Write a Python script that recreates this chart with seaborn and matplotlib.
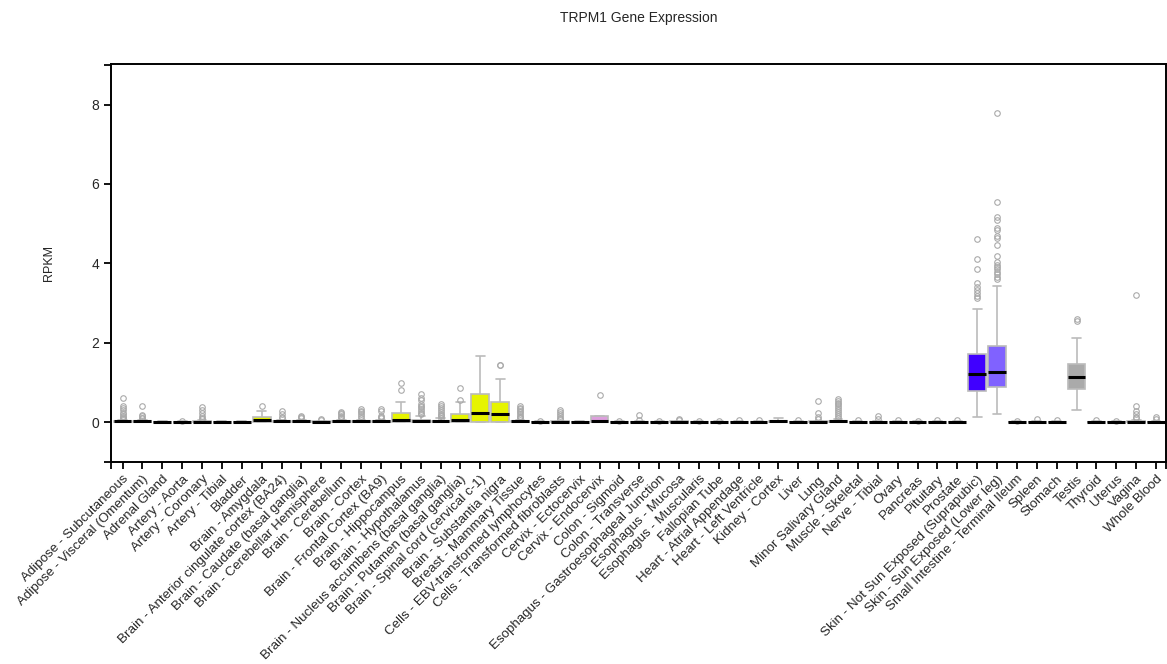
import pandas as pd
import seaborn as sns
import matplotlib.pyplot as plt

# Tissue names in display order
tissues = [
    "Adipose - Subcutaneous", "Adipose - Visceral (Omentum)", "Adrenal Gland",
    "Artery - Aorta", "Artery - Coronary", "Artery - Tibial", "Bladder",
    "Brain - Amygdala", "Brain - Anterior cingulate cortex (BA24)",
    "Brain - Caudate (basal ganglia)", "Brain - Cerebellar Hemisphere",
    "Brain - Cerebellum", "Brain - Cortex", "Brain - Frontal Cortex (BA9)",
    "Brain - Hippocampus", "Brain - Hypothalamus",
    "Brain - Nucleus accumbens (basal ganglia)", "Brain - Putamen (basal ganglia)",
    "Brain - Spinal cord (cervical c-1)", "Brain - Substantia nigra",
    "Breast - Mammary Tissue", "Cells - EBV-transformed lymphocytes",
    "Cells - Transformed fibroblasts", "Cervix - Ectocervix", "Cervix - Endocervix",
    "Colon - Sigmoid", "Colon - Transverse", "Esophagus - Gastroesophageal Junction",
    "Esophagus - Mucosa", "Esophagus - Muscularis", "Fallopian Tube",
    "Heart - Atrial Appendage", "Heart - Left Ventricle", "Kidney - Cortex", "Liver",
    "Lung", "Minor Salivary Gland", "Muscle - Skeletal", "Nerve - Tibial", "Ovary",
    "Pancreas", "Pituitary", "Prostate", "Skin - Not Sun Exposed (Suprapubic)",
    "Skin - Sun Exposed (Lower leg)", "Small Intestine - Terminal Ileum", "Spleen",
    "Stomach", "Testis", "Thyroid", "Uterus", "Vagina", "Whole Blood",
]

# Box summary values (RPKM)
q1 = [0.0, 0.0, 0.0, 0.0, 0.0, 0.0, 0.0, 0.0, 0.0, 0.0, 0.0, 0.0, 0.0, 0.0,
      0.0, 0.0, 0.0, 0.0, 0.01, 0.01, 0.0, 0.0, 0.0, 0.0, 0.01, 0.0, 0.0, 0.0,
      0.0, 0.0, 0.0, 0.0, 0.0, 0.0, 0.0, 0.0, 0.0, 0.0, 0.0, 0.0, 0.0, 0.0,
      0.0, 0.78, 0.88, 0.0, 0.0, 0.0, 0.84, 0.0, 0.0, 0.0, 0.0]
median = [0.02, 0.02, 0.0, 0.0, 0.01, 0.0, 0.0, 0.05, 0.02, 0.02, 0.01, 0.02,
          0.02, 0.02, 0.07, 0.03, 0.02, 0.07, 0.23, 0.20, 0.02, 0.0, 0.01, 0.0,
          0.03, 0.0, 0.0, 0.0, 0.01, 0.0, 0.0, 0.0, 0.0, 0.02, 0.0, 0.01, 0.02,
          0.0, 0.0, 0.0, 0.0, 0.0, 0.0, 1.22, 1.27, 0.0, 0.0, 0.0, 1.14, 0.0,
          0.0, 0.01, 0.0]
q3 = [0.03, 0.03, 0.01, 0.01, 0.02, 0.01, 0.01, 0.13, 0.03, 0.03, 0.02, 0.03,
      0.03, 0.03, 0.23, 0.07, 0.04, 0.21, 0.70, 0.51, 0.03, 0.01, 0.02, 0.01,
      0.16, 0.01, 0.01, 0.01, 0.02, 0.01, 0.01, 0.01, 0.01, 0.04, 0.01, 0.02,
      0.04, 0.01, 0.01, 0.01, 0.01, 0.01, 0.01, 1.71, 1.93, 0.01, 0.01, 0.01,
      1.48, 0.01, 0.01, 0.03, 0.01]
whisker_lo = [0.0] * 43 + [0.14, 0.20] + [0.0] * 3 + [0.30] + [0.0] * 4
whisker_hi = [0.06, 0.06, 0.02, 0.02, 0.05, 0.02, 0.02, 0.28, 0.06, 0.06, 0.04,
              0.06, 0.06, 0.06, 0.50, 0.15, 0.08, 0.50, 1.67, 1.08, 0.06, 0.02,
              0.04, 0.02, 0.16, 0.02, 0.02, 0.02, 0.04, 0.02, 0.02, 0.02, 0.02,
              0.08, 0.02, 0.04, 0.08, 0.02, 0.02, 0.02, 0.02, 0.02, 0.02, 2.86,
              3.44, 0.02, 0.02, 0.02, 2.12, 0.02, 0.02, 0.06, 0.02]
outliers = [
    [0.62, 0.40, 0.36, 0.30, 0.24, 0.20, 0.16, 0.13, 0.10, 0.08],
    [0.40, 0.18, 0.15, 0.12, 0.10],
    [], [0.04], [0.38, 0.31, 0.23, 0.16, 0.12, 0.09], [], [],
    [0.41],
    [0.28, 0.20, 0.14, 0.11],
    [0.17, 0.14, 0.12],
    [0.09, 0.07],
    [0.26, 0.23, 0.20, 0.17, 0.14, 0.11],
    [0.33, 0.29, 0.25, 0.20, 0.16, 0.12],
    [0.33, 0.29, 0.16, 0.13, 0.10],
    [0.81, 0.98],
    [0.70, 0.62, 0.55, 0.47, 0.42, 0.38, 0.33, 0.28, 0.24, 0.20],
    [0.45, 0.40, 0.36, 0.30, 0.26, 0.22, 0.18, 0.15, 0.12, 0.10],
    [0.56, 0.86],
    [],
    [1.45, 1.43],
    [0.40, 0.36, 0.33, 0.29, 0.25, 0.21, 0.17, 0.13, 0.10],
    [0.03],
    [0.30, 0.25, 0.20, 0.16, 0.12, 0.09],
    [],
    [0.68],
    [0.03], [0.18, 0.06], [0.04], [0.08, 0.06], [0.03], [0.03],
    [0.05], [0.05], [0.10], [0.06],
    [0.54, 0.23, 0.13, 0.08],
    [0.58, 0.54, 0.49, 0.45, 0.41, 0.35, 0.30, 0.26, 0.20, 0.16, 0.12],
    [0.06], [0.17, 0.08], [0.05], [0.04], [0.05], [0.05],
    [4.62, 4.11, 3.86, 3.50, 3.40, 3.33, 3.26, 3.19, 3.13],
    [7.79, 5.55, 5.17, 5.09, 4.88, 4.85, 4.69, 4.64, 4.46, 4.18, 4.03, 3.97,
     3.91, 3.85, 3.79, 3.73, 3.66, 3.61],
    [0.03], [0.09], [0.05],
    [2.56, 2.59],
    [0.05], [0.03],
    [3.21, 0.42, 0.29, 0.20, 0.14, 0.10],
    [0.14, 0.08],
]

colors = [
    "#FF6600", "#FFAA00", "#33DD33", "#FF5555", "#FFAA99", "#FF0000", "#AA0000",
    "#E6F400", "#E6F400", "#E6F400", "#E6F400", "#E6F400", "#E6F400", "#E6F400",
    "#E6F400", "#E6F400", "#E6F400", "#E6F400", "#E6F400", "#E6F400",
    "#33CCCC", "#CC66FF", "#AAEEFF", "#FFCCCC", "#DDA0DD", "#EEBB77", "#CC9955",
    "#8B7355", "#552200", "#BB9988", "#FFCCCC", "#9900FF", "#660099", "#22FFDD",
    "#AABB66", "#99FF00", "#99BB88", "#AAAAFF", "#FFD700", "#FFAAFF", "#995522",
    "#AAFF99", "#DDDDDD", "#4000FF", "#8062FF", "#555522", "#778855", "#FFDD99",
    "#AAAAAA", "#006600", "#FF66FF", "#FF5599", "#FF00BB",
]

# Long-form table whose quartiles/whiskers reproduce the summaries above
k = 50
rows = []
for i, t in enumerate(tissues):
    vals = ([whisker_lo[i]] + [q1[i]] * k + [median[i]] * k + [q3[i]] * k
            + [whisker_hi[i]] + outliers[i])
    rows += [(t, v) for v in vals]
df = pd.DataFrame(rows, columns=["tissue", "rpkm"])

sns.set_style("white")
plt.rcParams["font.family"] = ["Liberation Sans", "DejaVu Sans"]

fig, ax = plt.subplots(figsize=(11.67, 6.64), dpi=100)
fig.subplots_adjust(left=0.0951, right=0.9991, bottom=0.3042, top=0.9036)

sns.boxplot(
    data=df, x="tissue", y="rpkm", hue="tissue", order=tissues,
    palette=dict(zip(tissues, colors)), legend=False, saturation=1,
    width=0.9, linecolor="#bbbbbb", linewidth=1.2,
    medianprops=dict(color="black", linewidth=2.2),
    flierprops=dict(marker="o", markersize=4, markerfacecolor="none",
                    markeredgecolor="#aaaaaa", markeredgewidth=0.8),
    ax=ax,
)

ax.set_xlim(-0.58, 52.5)
ax.set_ylim(-1, 9.02)
ax.set_yticks([-1, 0, 2, 4, 6, 8, 9])
ax.set_yticklabels(["", "0", "2", "4", "6", "8", ""])
ax.set_xticks(range(len(tissues)))
ax.set_xticks([-0.58, 52.5], minor=True)
ax.set_xticklabels(tissues, rotation=45, ha="right", va="top",
                   rotation_mode="anchor", fontsize=9.6)
ax.tick_params(axis="y", labelsize=10, length=5, width=1.3, color="black", left=True)
ax.tick_params(axis="x", which="both", length=5, width=1.3, color="black",
               bottom=True, pad=3)
for s in ax.spines.values():
    s.set_visible(True)
    s.set_color("black")
    s.set_linewidth(1.4)

ax.set_xlabel("")
ax.set_ylabel("RPKM", fontsize=9, labelpad=26)
ax.set_title("TRPM1 Gene Expression", fontsize=10, pad=30)

fig.savefig("out.png", dpi=100)
